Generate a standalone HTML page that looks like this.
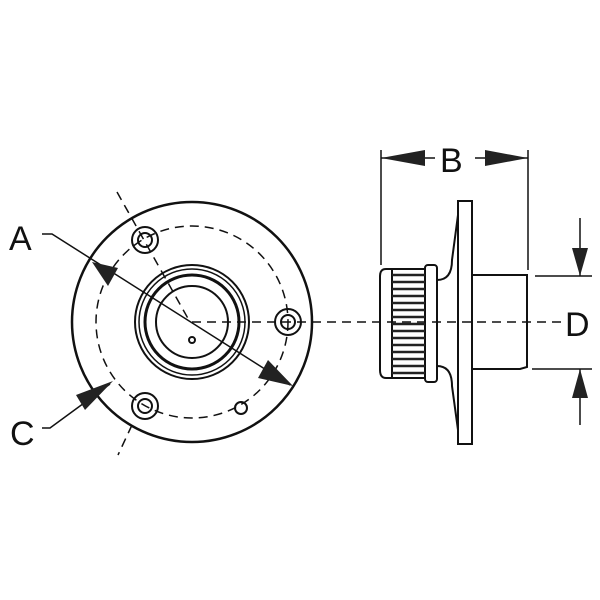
<!DOCTYPE html>
<html><head><style>body{margin:0;background:#fff}svg{display:block}</style></head><body>
<svg width="600" height="600" viewBox="0 0 600 600" xmlns="http://www.w3.org/2000/svg" font-family="Liberation Sans, sans-serif">
<g fill="none" stroke="#111" stroke-width="2">
<circle cx="192" cy="322" r="120" stroke-width="2.5"/>
<circle cx="192" cy="322" r="96" stroke-dasharray="9,6" stroke-width="1.5"/>
<circle cx="192" cy="322" r="57"/>
<circle cx="192" cy="322" r="53" stroke-width="1.5"/>
<circle cx="192" cy="322" r="47" stroke-width="3"/>
<circle cx="192" cy="322" r="36"/>
<circle cx="145" cy="240" r="13"/><circle cx="145" cy="240" r="7"/>
<circle cx="288" cy="322" r="13"/><circle cx="288" cy="322" r="7"/>
<circle cx="145" cy="406" r="13"/><circle cx="145" cy="406" r="7"/>
<circle cx="241" cy="408" r="6"/>
<circle cx="192" cy="340" r="3"/>
<g stroke-dasharray="9,6" stroke-width="1.5">
<line x1="192" y1="322" x2="565" y2="322"/>
<line x1="117" y1="192" x2="190" y2="322"/>
<line x1="132" y1="425" x2="118" y2="455"/>
</g>
<polyline points="42,234 52,234 290,385" stroke-width="1.5"/>
<polyline points="42,428 50,428 110,384" stroke-width="1.5"/>
<line x1="381" y1="150" x2="381" y2="265" stroke-width="1.5"/>
<line x1="528" y1="150" x2="528" y2="270" stroke-width="1.5"/>
<line x1="381" y1="158" x2="435" y2="158" stroke-width="1.5"/>
<line x1="475" y1="158" x2="528" y2="158" stroke-width="1.5"/>
<line x1="535" y1="276" x2="592" y2="276" stroke-width="1.5"/>
<line x1="532" y1="369" x2="592" y2="369" stroke-width="1.5"/>
<line x1="580" y1="218" x2="580" y2="276" stroke-width="1.5"/>
<line x1="580" y1="369" x2="580" y2="425" stroke-width="1.5"/>
<rect x="458" y="201" width="14" height="243"/>
<path d="M472 275 H527 V367 L520 369 H472"/>
<path d="M392 269 H386 Q380 269 380 276 V370 Q380 378 386 378 H392"/>
<rect x="392" y="269" width="33" height="109"/>
<rect x="425" y="265" width="12" height="117" rx="3"/>
<path d="M437 280 Q452 280 452 260 L458 215"/>
<path d="M437 366 Q452 366 452 386 L458 430"/>
</g>
<g stroke="#222" stroke-width="2.5">
<line x1="392" y1="275" x2="425" y2="275"/><line x1="392" y1="282" x2="425" y2="282"/><line x1="392" y1="289" x2="425" y2="289"/><line x1="392" y1="296" x2="425" y2="296"/><line x1="392" y1="303" x2="425" y2="303"/><line x1="392" y1="310" x2="425" y2="310"/><line x1="392" y1="317" x2="425" y2="317"/><line x1="392" y1="324" x2="425" y2="324"/><line x1="392" y1="331" x2="425" y2="331"/><line x1="392" y1="338" x2="425" y2="338"/><line x1="392" y1="345" x2="425" y2="345"/><line x1="392" y1="352" x2="425" y2="352"/><line x1="392" y1="359" x2="425" y2="359"/><line x1="392" y1="366" x2="425" y2="366"/><line x1="392" y1="373" x2="425" y2="373"/>
</g>
<g fill="#222">
<polygon points="92,262 118,268 108,286"/>
<polygon points="293,386 258,378 268,360"/>
<polygon points="113,381 85,410 76,395"/>
<polygon points="381,158 425,150 425,166"/>
<polygon points="528,158 485,150 485,166"/>
<polygon points="580,276 572,248 588,248"/>
<polygon points="580,369 572,398 588,398"/>
</g>
<g font-size="34" fill="#111">
<text x="9" y="250">A</text>
<text x="10" y="445">C</text>
<text x="440" y="172">B</text>
<text x="565" y="336">D</text>
</g>
</svg>
</body></html>
